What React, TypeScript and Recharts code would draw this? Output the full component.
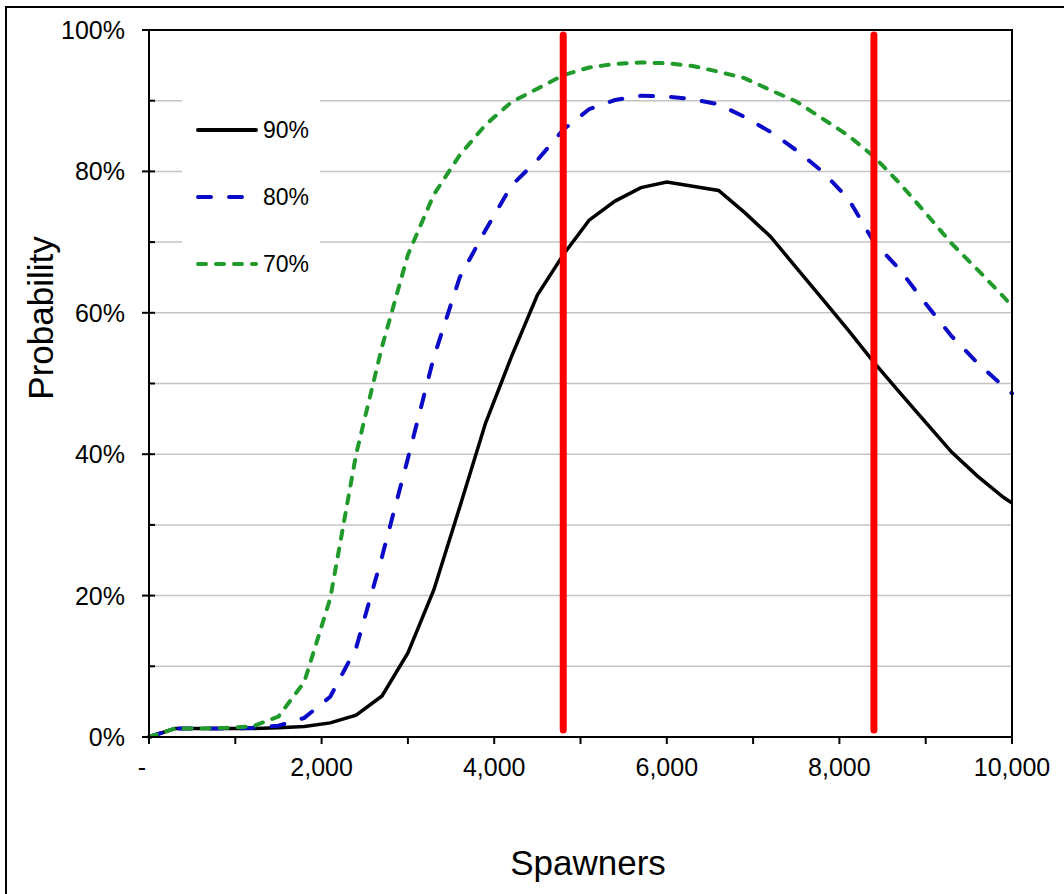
import React from "react"
import { LineChart, Line, XAxis, YAxis, CartesianGrid, Label } from "recharts"

// spawner counts (x) and probability of reaching each target (%)
const spawners = [
	0, 300, 600, 900, 1200, 1500, 1800, 2100, 2400, 2700, 3000, 3300, 3600, 3900,
	4200, 4500, 4800, 5100, 5400, 5700, 6000, 6300, 6600, 6900, 7200, 7500, 7800,
	8100, 8400, 8700, 9000, 9300, 9600, 9900, 10000,
]
const p90 = [
	0, 1.2, 1.2, 1.2, 1.2, 1.3, 1.5, 2.0, 3.1, 5.8, 11.9, 20.8, 32.5, 44.4, 53.8,
	62.5, 68.2, 73.1, 75.8, 77.7, 78.5, 77.9, 77.3, 74.2, 70.8, 66.4, 62.0, 57.6,
	53.0, 48.7, 44.5, 40.3, 36.9, 33.9, 33.1,
]
const p80 = [
	0, 1.2, 1.2, 1.2, 1.3, 1.6, 2.7, 5.7, 12.6, 25.5, 39.4, 53.7, 65.0, 71.7, 78.0,
	81.6, 85.9, 88.8, 90.1, 90.7, 90.6, 90.2, 89.5, 87.7, 85.6, 83.0, 80.0, 76.2,
	70.0, 66.1, 61.3, 56.7, 52.9, 49.6, 48.6,
]
const p70 = [
	0, 1.2, 1.2, 1.3, 1.5, 2.9, 7.8, 19.6, 40.0, 55.2, 68.2, 76.7, 82.3, 86.6, 89.8,
	91.7, 93.6, 94.7, 95.2, 95.4, 95.3, 94.9, 94.1, 93.2, 91.5, 89.9, 87.5, 85.1,
	82.1, 78.3, 74.1, 69.8, 66.1, 62.3, 60.9,
]

// red vertical markers
const markerX = [4800, 8400]
const markerY = [1, 99.3]

const xTicks = [0, 1000, 2000, 3000, 4000, 5000, 6000, 7000, 8000, 9000, 10000]
const yTicks = [0, 10, 20, 30, 40, 50, 60, 70, 80, 90, 100]

const series = [
	{ key: "p90", name: "90%", color: "#000000", dash: undefined, width: 3.5 },
	{ key: "p80", name: "80%", color: "#0a0ac8", dash: "13 18", width: 4 },
	{ key: "p70", name: "70%", color: "#1f9a2b", dash: "8 10", width: 4 },
]

const data = spawners.map((s, i) => ({ s, p90: p90[i], p80: p80[i], p70: p70[i] }))
const markers = markerX.map((x) => markerY.map((v) => ({ s: x, v })))

const FONT = "'Liberation Sans', Arial, sans-serif"

const YTick = (props: any) => {
	const { x, y, payload } = props
	const v = payload.value
	const major = v % 20 === 0
	return (
		<g>
			<line x1={major ? x - 7 : x} x2={x + 6} y1={y} y2={y} stroke="#000" strokeWidth={2} />
			{major && (
				<text x={x - 24} y={y + 9} textAnchor="end" fontSize={25} fill="#000" fontFamily={FONT}>
					{v}%
				</text>
			)}
		</g>
	)
}

const XTick = (props: any) => {
	const { x, y, payload } = props
	const v = payload.value
	if (v % 2000 !== 0) return <g />
	return (
		<text
			x={v === 0 ? x - 7 : x}
			y={y + 32}
			textAnchor="middle"
			fontSize={25}
			fill="#000"
			fontFamily={FONT}>
			{v === 0 ? "-" : v.toLocaleString("en-US")}
		</text>
	)
}

const App = () => {
	return (
		<div
			style={{
				position: "absolute",
				left: 0,
				top: 0,
				width: 1064,
				height: 894,
				overflow: "hidden",
				background: "#fff",
				fontFamily: FONT,
			}}>
			<div
				style={{
					position: "absolute",
					left: 5,
					top: 6,
					width: 1100,
					height: 950,
					border: "2px solid #000",
				}}
			/>
			<div style={{ position: "absolute", left: 0, top: 0 }}>
				<LineChart
					width={1064}
					height={894}
					data={data}
					margin={{ top: 30, right: 52, bottom: 117, left: 69 }}>
					<CartesianGrid vertical={false} stroke="#c4c4c4" strokeWidth={1.5} />
					<XAxis
						dataKey="s"
						type="number"
						domain={[0, 10000]}
						ticks={xTicks}
						interval={0}
						height={40}
						tickSize={7}
						tickMargin={0}
						axisLine={{ stroke: "#000", strokeWidth: 2 }}
						tickLine={{ stroke: "#000", strokeWidth: 2 }}
						tick={<XTick />}>
						<Label
							content={() => (
								<text x={588} y={875} textAnchor="middle" fontSize={35} fill="#000" fontFamily={FONT}>
									Spawners
								</text>
							)}
						/>
					</XAxis>
					<YAxis
						type="number"
						domain={[0, 100]}
						ticks={yTicks}
						interval={0}
						width={80}
						tickSize={0}
						tickMargin={0}
						tickLine={false}
						axisLine={{ stroke: "#000", strokeWidth: 2 }}
						tick={<YTick />}>
						<Label
							content={() => (
								<text
									x={53}
									y={318}
									transform="rotate(-90 53 318)"
									textAnchor="middle"
									fontSize={35}
									fill="#000"
									fontFamily={FONT}>
									Probability
								</text>
							)}
						/>
					</YAxis>
					{series.map((s) => (
						<Line
							key={s.key}
							type="linear"
							dataKey={s.key}
							name={s.name}
							stroke={s.color}
							strokeWidth={s.width}
							strokeDasharray={s.dash}
							strokeLinecap={s.dash ? "round" : "butt"}
							dot={false}
							activeDot={false}
							isAnimationActive={false}
						/>
					))}
					{markers.map((m, i) => (
						<Line
							key={"marker" + i}
							data={m}
							type="linear"
							dataKey="v"
							stroke="#ff0000"
							strokeWidth={7}
							strokeLinecap="round"
							dot={false}
							activeDot={false}
							legendType="none"
							isAnimationActive={false}
						/>
					))}
				</LineChart>
			</div>
			{/* plot area frame: top and right edges */}
			<div
				style={{
					position: "absolute",
					left: 148,
					top: 29,
					width: 863,
					height: 708,
					borderTop: "2px solid #000",
					borderRight: "2px solid #000",
					pointerEvents: "none",
				}}
			/>
			<div
				style={{
					position: "absolute",
					left: 182,
					top: 95,
					width: 138,
					height: 195,
					background: "#fff",
				}}>
				{series.map((s, i) => (
					<div
						key={s.key}
						style={{
							position: "absolute",
							left: 14,
							top: 22 + i * 67,
							height: 26,
							display: "flex",
							alignItems: "center",
						}}>
						<svg width={66} height={26}>
							<line
								x1={2}
								x2={60}
								y1={13}
								y2={13}
								stroke={s.color}
								strokeWidth={4}
								strokeDasharray={s.dash}
								strokeLinecap="round"
							/>
						</svg>
						<span style={{ fontSize: 23, color: "#000", marginLeft: 1 }}>{s.name}</span>
					</div>
				))}
			</div>
		</div>
	)
}

export default App
